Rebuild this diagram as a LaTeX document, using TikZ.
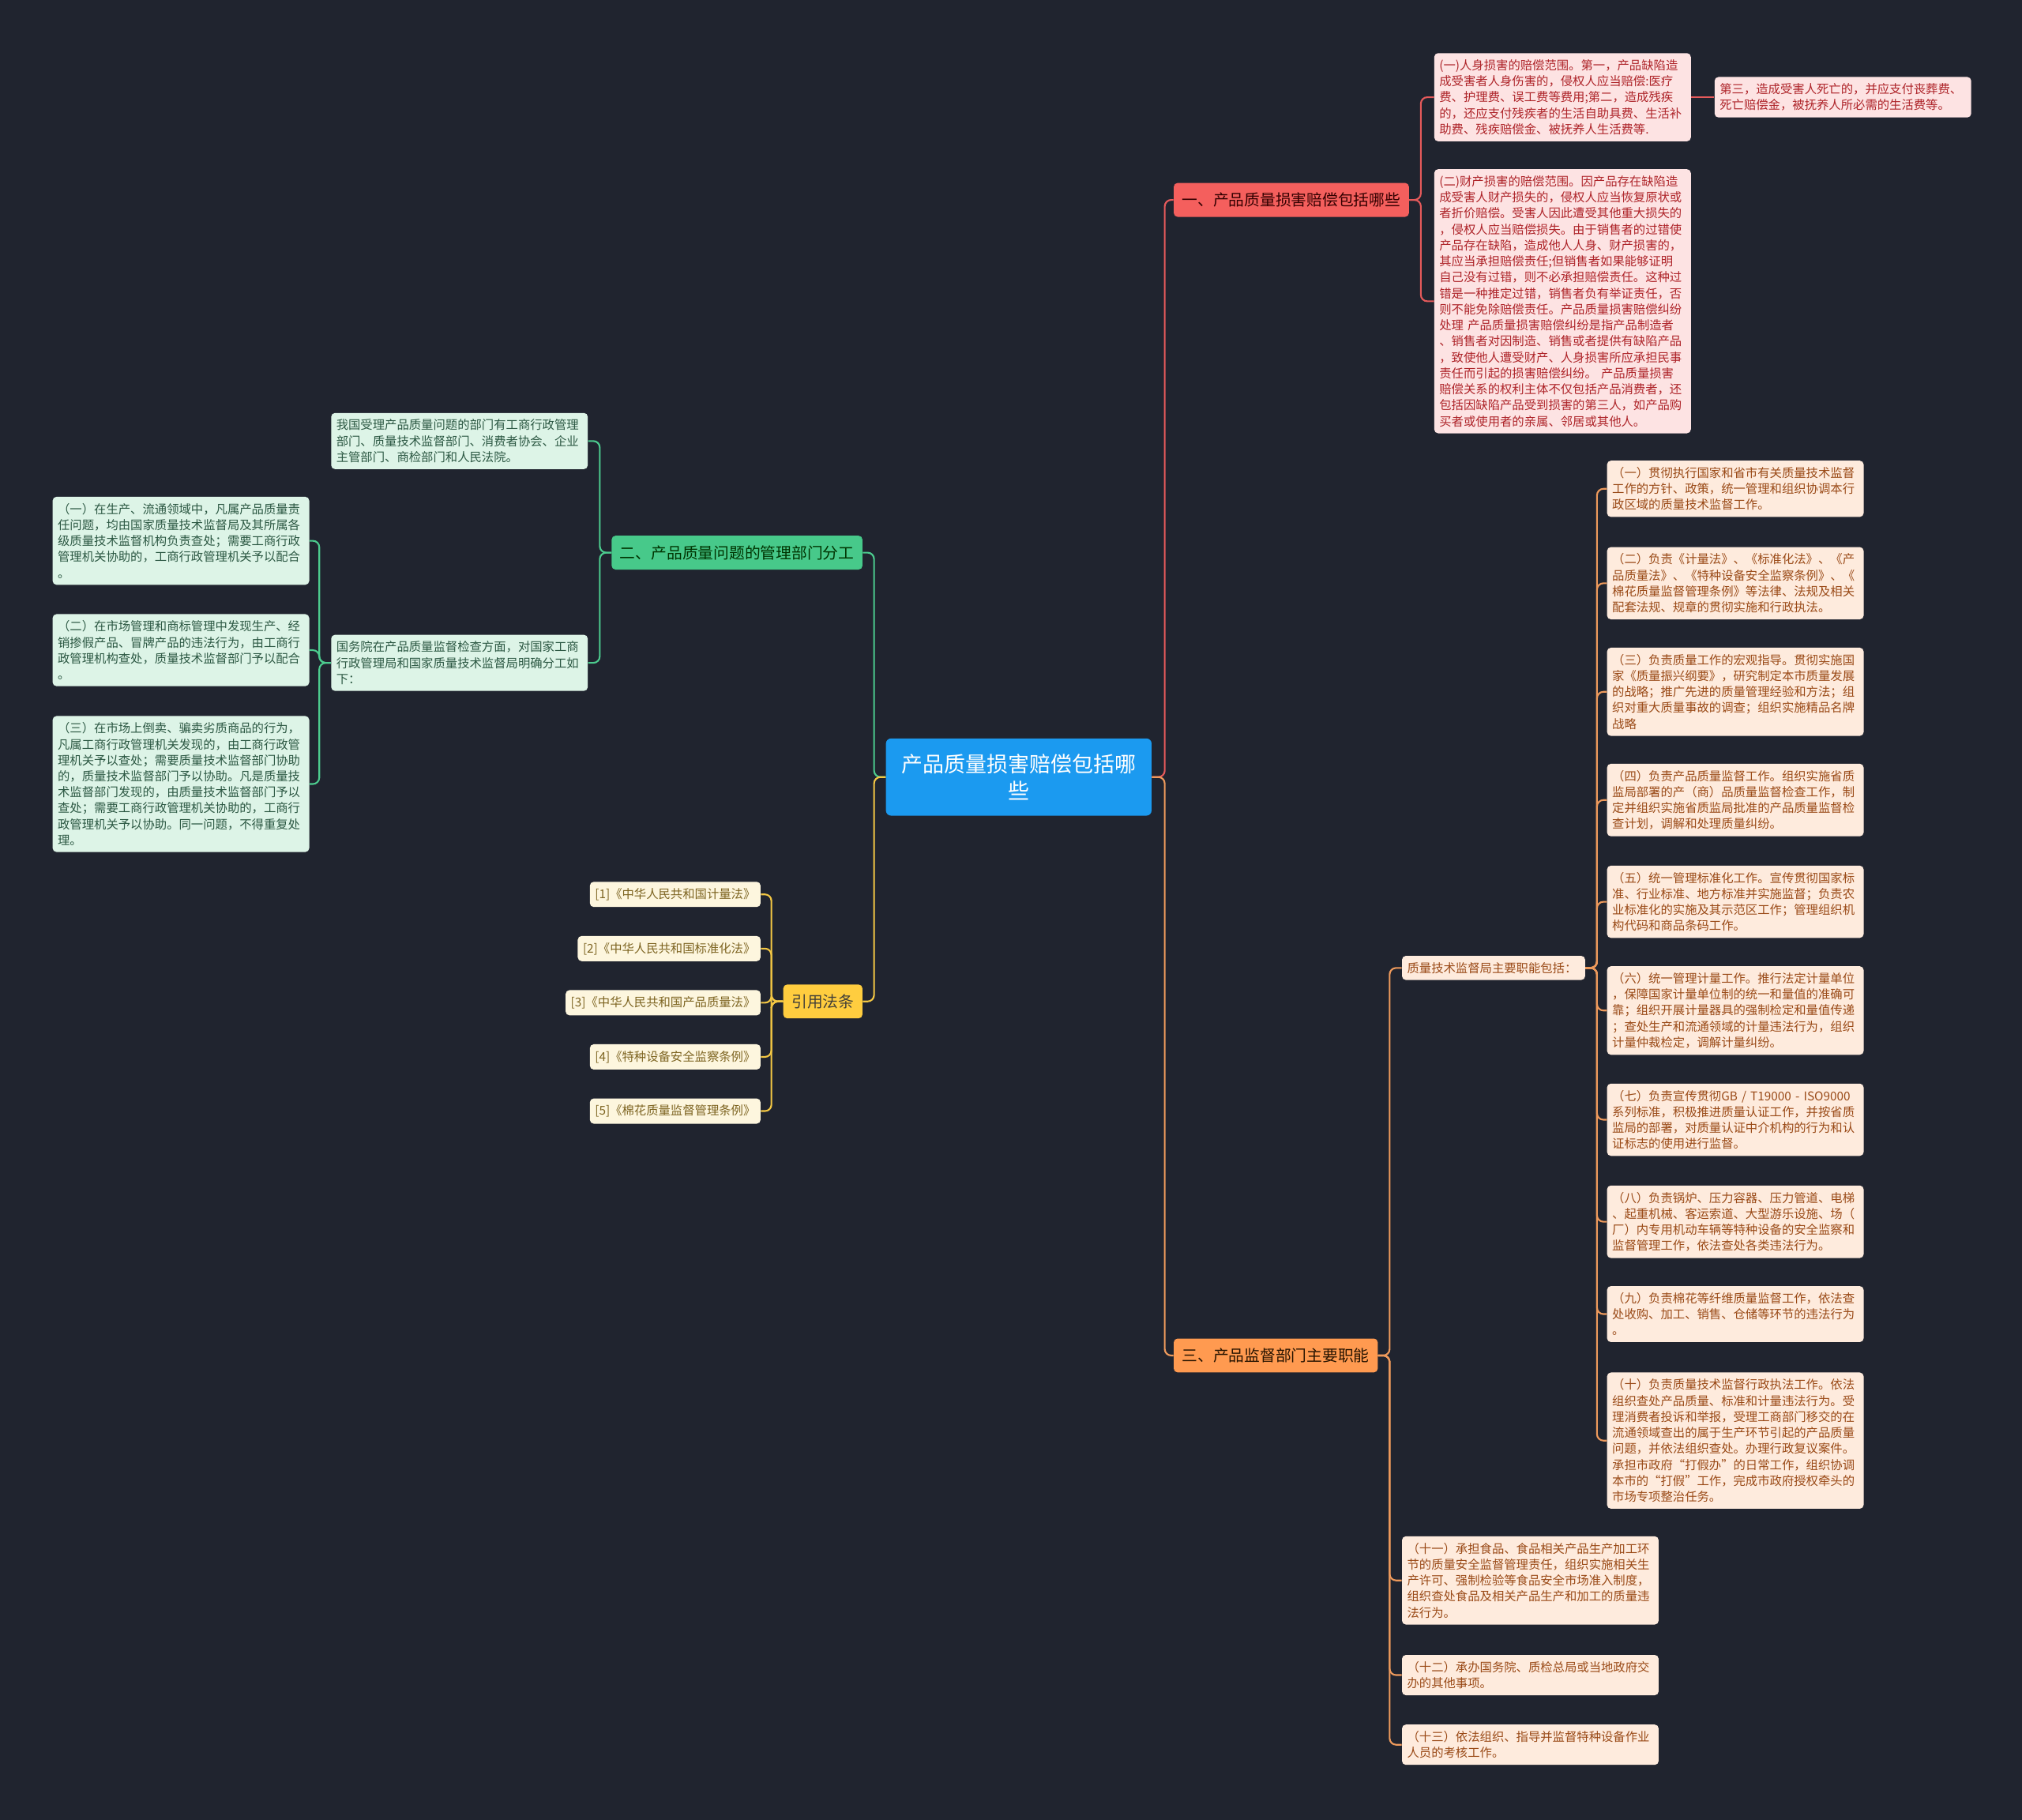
\documentclass[tikz,border=0pt]{standalone}
\usepackage{fontspec}
\setmainfont{Noto Sans CJK SC}
\usepackage{tikz}
\usetikzlibrary{positioning}
\definecolor{bgnavy}{HTML}{20242F}
\definecolor{rootblue}{HTML}{1B9AF0}
\definecolor{redmain}{HTML}{F45F5D}
\definecolor{redpale}{HTML}{FDE3E3}
\definecolor{redink}{HTML}{AE2429}
\definecolor{redwire}{HTML}{E65A5B}
\definecolor{greenmain}{HTML}{47C98A}
\definecolor{greenpale}{HTML}{DDF4E7}
\definecolor{greenink}{HTML}{2C5843}
\definecolor{greenwire}{HTML}{4CCB8E}
\definecolor{yellowmain}{HTML}{FFCD3F}
\definecolor{yellowpale}{HTML}{FDF6DE}
\definecolor{yellowink}{HTML}{7D6421}
\definecolor{yellowwire}{HTML}{F3C744}
\definecolor{orangemain}{HTML}{FF9A50}
\definecolor{orangepale}{HTML}{FEEBDD}
\definecolor{orangeink}{HTML}{9A4A17}
\definecolor{orangewire}{HTML}{EE9A5C}
\newcommand{\leafsize}{\fontsize{9.4}{12.4}\selectfont}

\begin{document}
\begin{tikzpicture}[
  x=1pt, y=-1pt,
  leaf/.style={rounded corners=3pt, text width=191pt, align=left,
               inner xsep=4pt, inner ysep=5pt, font=\leafsize},
  redbox/.style={leaf, fill=redpale, text=redink},
  greenbox/.style={leaf, fill=greenpale, text=greenink},
  orangebox/.style={leaf, fill=orangepale, text=orangeink},
  citebox/.style={rounded corners=3pt, fill=yellowpale, text=yellowink,
                  inner xsep=4pt, inner ysep=5pt, font=\leafsize},
  topic/.style={rounded corners=3pt, inner xsep=6.5pt, inner ysep=7.5pt,
                font=\fontsize{12.1}{14}\selectfont},
  link/.style={line width=1.3pt, rounded corners=5pt}
]
  \fill[bgnavy] (0,0) rectangle (1568,1411);
  \useasboundingbox (0,0) rectangle (1568,1411);

  % centre
  \node[rounded corners=4pt, fill=rootblue, text=white, text width=186pt,
        align=center, inner xsep=10pt, inner ysep=12pt,
        font=\fontsize{16.5}{21}\selectfont]
        (root) at (790,602.5) {产品质量损害赔偿包括哪\\些};

  % main topics
  \node[topic, fill=redmain, text=black!80!red, anchor=west] (b1) at (910,155)
        {一、产品质量损害赔偿包括哪些};
  \node[topic, fill=greenmain, text=black!80!green, anchor=east] (b2) at (669,428.5)
        {二、产品质量问题的管理部门分工};
  \node[topic, fill=yellowmain, text=black!85!yellow, anchor=east] (b4) at (669,776.5)
        {引用法条};
  \node[topic, fill=orangemain, text=black!85!orange, anchor=west] (b3) at (910,1051)
        {三、产品监督部门主要职能};

  % branch one
  \node[redbox, anchor=north west] (r1) at (1112,41)
        {(一)人身损害的赔偿范围。第一，产品缺陷造\\
         成受害者人身伤害的，侵权人应当赔偿:医疗\\
         费、护理费、误工费等费用;第二，造成残疾\\
         的，还应支付残疾者的生活自助具费、生活补\\
         助费、残疾赔偿金、被抚养人生活费等.};
  \node[redbox, right=18pt of r1] (r1a)
        {第三，造成受害人死亡的，并应支付丧葬费、\\
         死亡赔偿金，被抚养人所必需的生活费等。};
  \node[redbox, anchor=north west] (r2) at (1112,131)
        {(二)财产损害的赔偿范围。因产品存在缺陷造\\
         成受害人财产损失的，侵权人应当恢复原状或\\
         者折价赔偿。受害人因此遭受其他重大损失的\\
         ，侵权人应当赔偿损失。由于销售者的过错使\\
         产品存在缺陷，造成他人人身、财产损害的，\\
         其应当承担赔偿责任;但销售者如果能够证明\\
         自己没有过错，则不必承担赔偿责任。这种过\\
         错是一种推定过错，销售者负有举证责任，否\\
         则不能免除赔偿责任。产品质量损害赔偿纠纷\\
         处理 产品质量损害赔偿纠纷是指产品制造者\\
         、销售者对因制造、销售或者提供有缺陷产品\\
         ，致使他人遭受财产、人身损害所应承担民事\\
         责任而引起的损害赔偿纠纷。 产品质量损害\\
         赔偿关系的权利主体不仅包括产品消费者，还\\
         包括因缺陷产品受到损害的第三人，如产品购\\
         买者或使用者的亲属、邻居或其他人。};

  % branch two
  \node[greenbox, anchor=north east] (g1) at (456,320)
        {我国受理产品质量问题的部门有工商行政管理\\
         部门、质量技术监督部门、消费者协会、企业\\
         主管部门、商检部门和人民法院。};
  \node[greenbox, anchor=north east] (g2) at (456,492)
        {国务院在产品质量监督检查方面，对国家工商\\
         行政管理局和国家质量技术监督局明确分工如\\
         下：};
  \node[greenbox, anchor=north east] (g21) at (240,385)
        {（一）在生产、流通领域中，凡属产品质量责\\
         任问题，均由国家质量技术监督局及其所属各\\
         级质量技术监督机构负责查处；需要工商行政\\
         管理机关协助的，工商行政管理机关予以配合\\
         。};
  \node[greenbox, anchor=north east] (g22) at (240,476)
        {（二）在市场管理和商标管理中发现生产、经\\
         销掺假产品、冒牌产品的违法行为，由工商行\\
         政管理机构查处，质量技术监督部门予以配合\\
         。};
  \node[greenbox, anchor=north east] (g23) at (240,555)
        {（三）在市场上倒卖、骗卖劣质商品的行为，\\
         凡属工商行政管理机关发现的，由工商行政管\\
         理机关予以查处；需要质量技术监督部门协助\\
         的，质量技术监督部门予以协助。凡是质量技\\
         术监督部门发现的，由质量技术监督部门予以\\
         查处；需要工商行政管理机关协助的，工商行\\
         政管理机关予以协助。同一问题，不得重复处\\
         理。};

  % cited laws
  \foreach \t [count=\k] in {[1]《中华人民共和国计量法》,
                            [2]《中华人民共和国标准化法》,
                            [3]《中华人民共和国产品质量法》,
                            [4]《特种设备安全监察条例》,
                            [5]《棉花质量监督管理条例》} {
    \node[citebox, anchor=east] (c\k) at (590,651.5+42*\k) {\t};
  }

  % branch three
  \node[orangebox, text width=134pt, anchor=west] (s0) at (1087,750.5)
        {质量技术监督局主要职能包括：};
  \node[orangebox, anchor=north west] (o1) at (1246,357)
        {（一）贯彻执行国家和省市有关质量技术监督\\
         工作的方针、政策，统一管理和组织协调本行\\
         政区域的质量技术监督工作。};
  \node[orangebox, anchor=north west] (o2) at (1246,424)
        {（二）负责《计量法》、《标准化法》、《产\\
         品质量法》、《特种设备安全监察条例》、《\\
         棉花质量监督管理条例》等法律、法规及相关\\
         配套法规、规章的贯彻实施和行政执法。};
  \node[orangebox, anchor=north west] (o3) at (1246,502)
        {（三）负责质量工作的宏观指导。贯彻实施国\\
         家《质量振兴纲要》，研究制定本市质量发展\\
         的战略；推广先进的质量管理经验和方法；组\\
         织对重大质量事故的调查；组织实施精品名牌\\
         战略};
  \node[orangebox, anchor=north west] (o4) at (1246,592)
        {（四）负责产品质量监督工作。组织实施省质\\
         监局部署的产（商）品质量监督检查工作，制\\
         定并组织实施省质监局批准的产品质量监督检\\
         查计划，调解和处理质量纠纷。};
  \node[orangebox, anchor=north west] (o5) at (1246,671)
        {（五）统一管理标准化工作。宣传贯彻国家标\\
         准、行业标准、地方标准并实施监督；负责农\\
         业标准化的实施及其示范区工作；管理组织机\\
         构代码和商品条码工作。};
  \node[orangebox, anchor=north west] (o6) at (1246,749)
        {（六）统一管理计量工作。推行法定计量单位\\
         ，保障国家计量单位制的统一和量值的准确可\\
         靠；组织开展计量器具的强制检定和量值传递\\
         ；查处生产和流通领域的计量违法行为，组织\\
         计量仲裁检定，调解计量纠纷。};
  \node[orangebox, anchor=north west] (o7) at (1246,840)
        {（七）负责宣传贯彻GB / T19000 - ISO9000\\
         系列标准，积极推进质量认证工作，并按省质\\
         监局的部署，对质量认证中介机构的行为和认\\
         证标志的使用进行监督。};
  \node[orangebox, anchor=north west] (o8) at (1246,919)
        {（八）负责锅炉、压力容器、压力管道、电梯\\
         、起重机械、客运索道、大型游乐设施、场（\\
         厂）内专用机动车辆等特种设备的安全监察和\\
         监督管理工作，依法查处各类违法行为。};
  \node[orangebox, anchor=north west] (o9) at (1246,997)
        {（九）负责棉花等纤维质量监督工作，依法查\\
         处收购、加工、销售、仓储等环节的违法行为\\
         。};
  \node[orangebox, anchor=north west] (o10) at (1246,1064)
        {（十）负责质量技术监督行政执法工作。依法\\
         组织查处产品质量、标准和计量违法行为。受\\
         理消费者投诉和举报，受理工商部门移交的在\\
         流通领域查出的属于生产环节引起的产品质量\\
         问题，并依法组织查处。办理行政复议案件。\\
         承担市政府“打假办”的日常工作，组织协调\\
         本市的“打假”工作，完成市政府授权牵头的\\
         市场专项整治任务。};
  \node[orangebox, anchor=north west] (o11) at (1087,1191)
        {（十一）承担食品、食品相关产品生产加工环\\
         节的质量安全监督管理责任，组织实施相关生\\
         产许可、强制检验等食品安全市场准入制度，\\
         组织查处食品及相关产品生产和加工的质量违\\
         法行为。};
  \node[orangebox, anchor=north west] (o12) at (1087,1283)
        {（十二）承办国务院、质检总局或当地政府交\\
         办的其他事项。};
  \node[orangebox, anchor=north west] (o13) at (1087,1337)
        {（十三）依法组织、指导并监督特种设备作业\\
         人员的考核工作。};

  % connectors
  \draw[link, redwire] (root.east) -- ++(10,0) |- (b1.west);
  \draw[link, orangewire] (root.east) -- ++(10,0) |- (b3.west);
  \draw[link, greenwire] (root.west) -- ++(-9,0) |- (b2.east);
  \draw[link, yellowwire] (root.west) -- ++(-9,0) |- (b4.east);

  \foreach \c in {r1,r2}
    \draw[link, redwire] (b1.east) -- ++(9,0) |- (\c.west);
  \draw[link, redwire] (r1.east) -- (r1a.west);

  \foreach \c in {g1,g2}
    \draw[link, greenwire] (b2.west) -- ++(-9,0) |- (\c.east);
  \foreach \c in {g21,g22,g23}
    \draw[link, greenwire] (g2.west) -- ++(-9,0) |- (\c.east);

  \foreach \k in {1,...,5}
    \draw[link, yellowwire] (b4.west) -- ++(-9,0) |- (c\k.east);

  \foreach \c in {s0,o11,o12,o13}
    \draw[link, orangewire] (b3.east) -- ++(9,0) |- (\c.west);
  \foreach \k in {1,...,10}
    \draw[link, orangewire] (s0.east) -- ++(9,0) |- (o\k.west);
\end{tikzpicture}
\end{document}
